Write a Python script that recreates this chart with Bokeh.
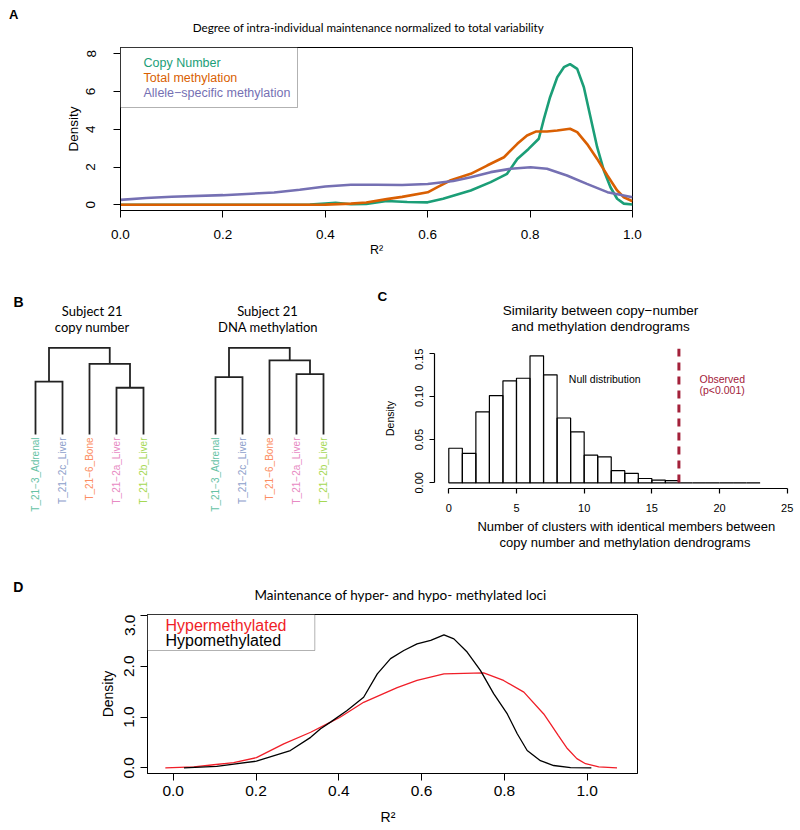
import math
from bokeh.plotting import figure
from bokeh.models import (Range1d, Label, BoxAnnotation, Span, FixedTicker,
                          ColumnDataSource, PrintfTickFormatter)
from bokeh.layouts import column, row
from bokeh.embed import file_html
from bokeh.resources import INLINE
from bokeh.core.properties import value

# ---------------- DATA ----------------
# Panel A: density of R^2
a_cn_x = [0.0, 0.1, 0.2, 0.3, 0.37, 0.40, 0.42, 0.45, 0.48, 0.52, 0.56, 0.60, 0.63, 0.684,
          0.723, 0.755, 0.775, 0.797, 0.817, 0.827, 0.839, 0.853, 0.866, 0.878, 0.892,
          0.905, 0.918, 0.931, 0.944, 0.957, 0.970, 0.983, 1.0]
a_cn_y = [0.0, 0.0, 0.0, 0.0, 0.01, 0.07, 0.11, 0.03, 0.05, 0.2, 0.15, 0.13, 0.32, 0.76,
          1.2, 1.64, 2.43, 2.96, 3.5, 4.55, 5.7, 6.76, 7.29, 7.45, 7.2,
          6.23, 4.64, 3.05, 1.82, 0.93, 0.32, 0.06, 0.02]
a_tm_x = [0.0, 0.1, 0.2, 0.3, 0.4, 0.45, 0.48, 0.52, 0.55, 0.60, 0.62, 0.645, 0.684, 0.716,
          0.749, 0.775, 0.794, 0.811, 0.833, 0.853, 0.878, 0.892, 0.911, 0.931, 0.951,
          0.970, 0.983, 1.0]
a_tm_y = [0.0, 0.0, 0.0, 0.0, 0.01, 0.06, 0.12, 0.3, 0.42, 0.66, 0.95, 1.3, 1.64, 2.08,
          2.52, 3.23, 3.67, 3.88, 3.88, 3.94, 4.03, 3.85, 3.23, 2.43, 1.55,
          0.76, 0.4, 0.19]
a_as_x = [0.0, 0.05, 0.1, 0.2, 0.3, 0.35, 0.4, 0.45, 0.5, 0.55, 0.6, 0.65, 0.684, 0.723,
          0.762, 0.801, 0.833, 0.872, 0.911, 0.951, 1.0]
a_as_y = [0.26, 0.36, 0.43, 0.51, 0.65, 0.8, 0.97, 1.06, 1.06, 1.05, 1.1, 1.26, 1.46, 1.73,
          1.91, 1.99, 1.91, 1.55, 1.11, 0.67, 0.4]
a_series = ["Copy Number", "Total methylation", "Allele\u2212specific methylation"]
a_colors = ["#1B9E77", "#D95F02", "#7570B3"]
a_xticks = [0.0, 0.2, 0.4, 0.6, 0.8, 1.0]
a_yticks = [0, 2, 4, 6, 8]

# Panel B: dendrograms
leaf_labels = ["T_21\u22123_Adrenal", "T_21\u22122c_Liver", "T_21\u22126_Bone",
               "T_21\u22122a_Liver", "T_21\u22122b_Liver"]
leaf_colors = ["#66C2A5", "#8DA0CB", "#FC8D62", "#E78AC3", "#A6D854"]
# merge heights: (Adrenal,2c), (2a,2b), (Bone,(2a,2b)), root
cn_heights = [0.611, 0.539, 0.815, 1.0]
meth_heights = [0.661, 0.696, 0.854, 1.0]

# Panel C: null distribution histogram
c_edges = list(range(0, 24))
c_density = [0.040, 0.034, 0.082, 0.101, 0.118, 0.121, 0.147, 0.125, 0.075, 0.059,
             0.032, 0.030, 0.014, 0.011, 0.005, 0.003, 0.0025, 0.0, 0.0, 0.0, 0.0, 0.0, 0.0]
c_observed = 17
c_xticks = [0, 5, 10, 15, 20, 25]
c_yticks = [0.0, 0.05, 0.10, 0.15]

# Panel D: hyper / hypo methylated
d_hyper_x = [-0.019, 0.05, 0.098, 0.146, 0.201, 0.267, 0.332, 0.38, 0.402, 0.46, 0.541,
             0.589, 0.654, 0.702, 0.750, 0.798, 0.847, 0.895, 0.911, 0.93, 0.952, 0.975,
             0.996, 1.028, 1.072]
d_hyper_y = [0.0, 0.02, 0.06, 0.10, 0.20, 0.47, 0.70, 0.90, 0.99, 1.29, 1.58,
             1.72, 1.85, 1.86, 1.87, 1.72, 1.49, 1.06, 0.87, 0.64, 0.38, 0.18,
             0.08, 0.02, 0.0]
d_hypo_x = [0.026, 0.105, 0.201, 0.283, 0.332, 0.356, 0.38, 0.42, 0.46, 0.493, 0.525,
            0.557, 0.589, 0.622, 0.654, 0.678, 0.710, 0.742, 0.774, 0.807, 0.831, 0.855,
            0.887, 0.919, 0.96, 1.01]
d_hypo_y = [0.0, 0.03, 0.13, 0.34, 0.60, 0.77, 0.90, 1.13, 1.39, 1.85, 2.15,
            2.31, 2.44, 2.51, 2.62, 2.54, 2.28, 1.92, 1.46, 1.06, 0.67, 0.34,
            0.14, 0.045, 0.005, 0.0]
d_series = ["Hypermethylated", "Hypomethylated"]
d_colors = ["#F01E28", "#000000"]
d_xticks = [0.0, 0.2, 0.4, 0.6, 0.8, 1.0]
d_yticks = [0.0, 1.0, 2.0, 3.0]

# ---------------- STYLE ----------------
AXF = "Liberation Sans"
TF = "Lato"
W = 796  # page width used


def style_axes(p, fs, tick_out, so_x, so_y, xfmt, yfmt, xticks, yticks, lw=1):
    p.xaxis.ticker = FixedTicker(ticks=xticks)
    p.yaxis.ticker = FixedTicker(ticks=yticks)
    p.xaxis.formatter = PrintfTickFormatter(format=xfmt)
    p.yaxis.formatter = PrintfTickFormatter(format=yfmt)
    for ax in (p.xaxis, p.yaxis):
        ax.minor_tick_line_color = None
        ax.major_tick_in = 0
        ax.major_tick_out = tick_out
        ax.major_label_text_font = AXF
        ax.major_label_text_font_size = fs
        ax.major_label_text_color = "black"
        ax.axis_line_color = "black"
        ax.major_tick_line_color = "black"
        ax.axis_line_width = lw
        ax.major_tick_line_width = lw
        ax.axis_label_text_font = AXF
        ax.axis_label_text_font_style = "normal"
        ax.axis_label_text_color = "black"
    p.xaxis.major_label_standoff = int(so_x)
    p.yaxis.major_label_standoff = int(so_y)
    p.yaxis.major_label_orientation = "vertical"
    p.xgrid.visible = False
    p.ygrid.visible = False


def lab(p, x, y, text, size, font=AXF, color="black", align="left",
        baseline="middle", angle=0.0, style="normal"):
    p.add_layout(Label(x=x, y=y, text=text, text_font=font, text_font_size=size,
                       text_color=color, text_align=align, text_baseline=baseline,
                       angle=angle, text_font_style=style))


def strip(x0, x1, y0, y1):
    """Text-only figure whose data units are page pixels (y grows downward)."""
    s = figure(width=int(x1 - x0), height=int(y1 - y0), x_range=Range1d(x0, x1),
               y_range=Range1d(y1, y0), output_backend="svg", toolbar_location=None,
               x_axis_type=None, y_axis_type=None, min_border=0, frame_align=False)
    s.outline_line_color = None
    return s


# ---------------- PANEL A ----------------
def ax_(rx): return (rx - 120) / 512.0
def ay_(ry): return (204.3 - ry) / 18.875

sA = strip(0, W, 0, 47)
lab(sA, 8.5, 14.2, "A", "13px", style="bold")
lab(sA, 368, 26.2, "Degree of intra-individual maintenance normalized to total variability",
    "11.7px", font=TF, align="center")

pA = figure(width=W, height=223, x_range=Range1d(0, 1), y_range=Range1d(ay_(210), ay_(47)),
            output_backend="svg", toolbar_location=None, frame_align=False,
            min_border_left=120, min_border_right=W - 632, min_border_top=0,
            min_border_bottom=60)
pA.outline_line_color = "black"
pA.outline_line_width = 1
style_axes(pA, "13.5px", 7, 12, 18, "%.1f", "%d", a_xticks, a_yticks)
pA.yaxis.axis_label = "Density"
pA.yaxis.axis_label_text_font_size = "13.5px"
pA.yaxis.axis_label_standoff = 3
pA.xaxis.axis_label = "R\u00b2"
pA.xaxis.axis_label_text_font_size = "12.5px"
pA.xaxis.axis_label_standoff = 1
for xs, ys, c in [(a_cn_x, a_cn_y, a_colors[0]), (a_tm_x, a_tm_y, a_colors[1]),
                  (a_as_x, a_as_y, a_colors[2])]:
    pA.line(xs, ys, line_color=c, line_width=2.6)
pA.add_layout(BoxAnnotation(left=0, right=ax_(297), top=ay_(47), bottom=ay_(107),
                            fill_color="white", fill_alpha=1.0, line_color="black",
                            line_width=1))
for i, (name, c) in enumerate(zip(a_series, a_colors)):
    lab(pA, ax_(143), ay_(62.5 + 15 * i), name, "12.5px", color=c)

# ---------------- PANEL B ----------------
def bx_(rx): return (rx - 8) / 27.0
def by_(ry): return (434 - ry) / 86.7

pB = figure(width=340, height=282, x_range=Range1d(bx_(0), bx_(340)),
            y_range=Range1d(by_(552), by_(270)), output_backend="svg",
            toolbar_location=None, x_axis_type=None, y_axis_type=None, min_border=0,
            frame_align=False)
pB.outline_line_color = None


def dendro_paths(xs, h):
    h_ac, h_ab, h_b, h_top = h
    x1, x2, x3, x4, x5 = xs
    cL = (x1 + x2) / 2.0
    cab = (x4 + x5) / 2.0
    cB = (x3 + cab) / 2.0
    px = [[x1, x1, x2, x2], [x4, x4, x5, x5], [x3, x3, cab, cab], [cL, cL, cB, cB]]
    py = [[0, h_ac, h_ac, 0], [0, h_ab, h_ab, 0], [0, h_b, h_b, h_ab], [h_ac, h_top, h_top, h_b]]
    return px, py


offset2 = bx_(215) - 1
for off, heights in [(0.0, cn_heights), (offset2, meth_heights)]:
    xs = [i + 1 + off for i in range(len(leaf_labels))]
    px, py = dendro_paths(xs, heights)
    pB.multi_line(px, py, line_color="#222222", line_width=1.8, line_join="miter")
    src = ColumnDataSource(dict(x=xs, y=[by_(437)] * len(xs), t=leaf_labels, c=leaf_colors))
    pB.text(x="x", y="y", text="t", text_color="c", source=src, angle=math.pi / 2,
            text_align="right", text_baseline="middle", text_font=value(AXF),
            text_font_size=value("10px"))

lab(pB, bx_(13), by_(301.7), "B", "14px", style="bold")
lab(pB, bx_(91.7), by_(310), "Subject 21", "13px", font=TF, align="center")
lab(pB, bx_(91.7), by_(326.2), "copy number", "13px", font=TF, align="center")
lab(pB, bx_(267), by_(310), "Subject 21", "13px", font=TF, align="center")
lab(pB, bx_(267.5), by_(326.2), "DNA methylation", "13px", font=TF, align="center")

# ---------------- PANEL C ----------------
def cx_(rx): return (rx - 448.3) / 13.536
def cy_(ry): return (482.3 - ry) / 864.0

sC = strip(340, W, 270, 348)
lab(sC, 377, 296.2, "C", "13.5px", style="bold")
lab(sC, 600, 310.3, "Similarity between copy\u2212number", "13.5px", align="center")
lab(sC, 600, 326.3, "and methylation dendrograms", "13.5px", align="center")

pC = figure(width=W - 340, height=170, x_range=Range1d(cx_(434), cx_(792)),
            y_range=Range1d(cy_(488), cy_(348)), output_backend="svg", toolbar_location=None,
            frame_align=False,
            min_border_left=94, min_border_right=W - 792, min_border_top=0,
            min_border_bottom=30)
pC.outline_line_color = None
style_axes(pC, "11px", 5, 10, 6, "%d", "%.2f", c_xticks, c_yticks, lw=1.2)
pC.xaxis.bounds = (0, 25)
pC.yaxis.bounds = (0, 0.15)
pC.yaxis.axis_label = "Density"
pC.yaxis.axis_label_text_font_size = "10.5px"
pC.yaxis.axis_label_standoff = 17
pC.quad(left=c_edges[:-1], right=c_edges[1:], bottom=0, top=c_density,
        fill_color=None, line_color="black", line_width=1.2)
pC.add_layout(Span(location=c_observed, dimension="height", line_color="#A3213A",
                   line_width=3, line_dash="8 6"))
lab(pC, cx_(568.3), cy_(378.6), "Null distribution", "10.5px")
lab(pC, cx_(699), cy_(378.6), "Observed", "10.5px", color="#A3213A")
lab(pC, cx_(699), cy_(389.8), "(p<0.001)", "10.5px", color="#A3213A")

sCb = strip(340, W, 518, 552)
lab(sCb, 625.8, 526, "Number of clusters with identical members between",
    "13px", align="center")
lab(sCb, 624.5, 542, "copy number and methylation dendrograms", "13px", align="center")

# ---------------- PANEL D ----------------
def dx_(rx): return (rx - 172.7) / 414.0
def dy_(ry): return (767.3 - ry) / 50.77

sD = strip(0, W, 552, 614)
lab(sD, 12.7, 586.7, "D", "14px", style="bold")
lab(sD, 400, 594.8, "Maintenance of hyper- and hypo- methylated loci", "13.5px",
    font=TF, align="center")

pD = figure(width=W, height=193, x_range=Range1d(dx_(147), dx_(637)),
            y_range=Range1d(dy_(773), dy_(614)), output_backend="svg", toolbar_location=None,
            frame_align=False,
            min_border_left=147, min_border_right=W - 637, min_border_top=0,
            min_border_bottom=34)
pD.outline_line_color = "black"
pD.outline_line_width = 1
style_axes(pD, "15.5px", 7, 5, 6, "%.1f", "%.1f", d_xticks, d_yticks)
pD.yaxis.axis_label = "Density"
pD.yaxis.axis_label_text_font_size = "14px"
pD.yaxis.axis_label_standoff = 6
pD.line(d_hyper_x, d_hyper_y, line_color=d_colors[0], line_width=1.3)
pD.line(d_hypo_x, d_hypo_y, line_color=d_colors[1], line_width=1.3)
pD.add_layout(BoxAnnotation(left=dx_(147), right=dx_(314.3), top=dy_(614), bottom=dy_(650),
                            fill_color="white", fill_alpha=1.0, line_color="black",
                            line_width=1))
for i, (name, c) in enumerate(zip(d_series, d_colors)):
    lab(pD, dx_(165), dy_(624.5 + 15 * i), name, "16px", color=c)

sDb = strip(0, W, 807, 827)
lab(sDb, 387.5, 816.8, "R\u00b2", "14px", align="center")

layout = column(sA, pA, row(pB, column(sC, pC, sCb)), sD, pD, sDb)
open("out.html", "w").write(file_html(layout, INLINE))
